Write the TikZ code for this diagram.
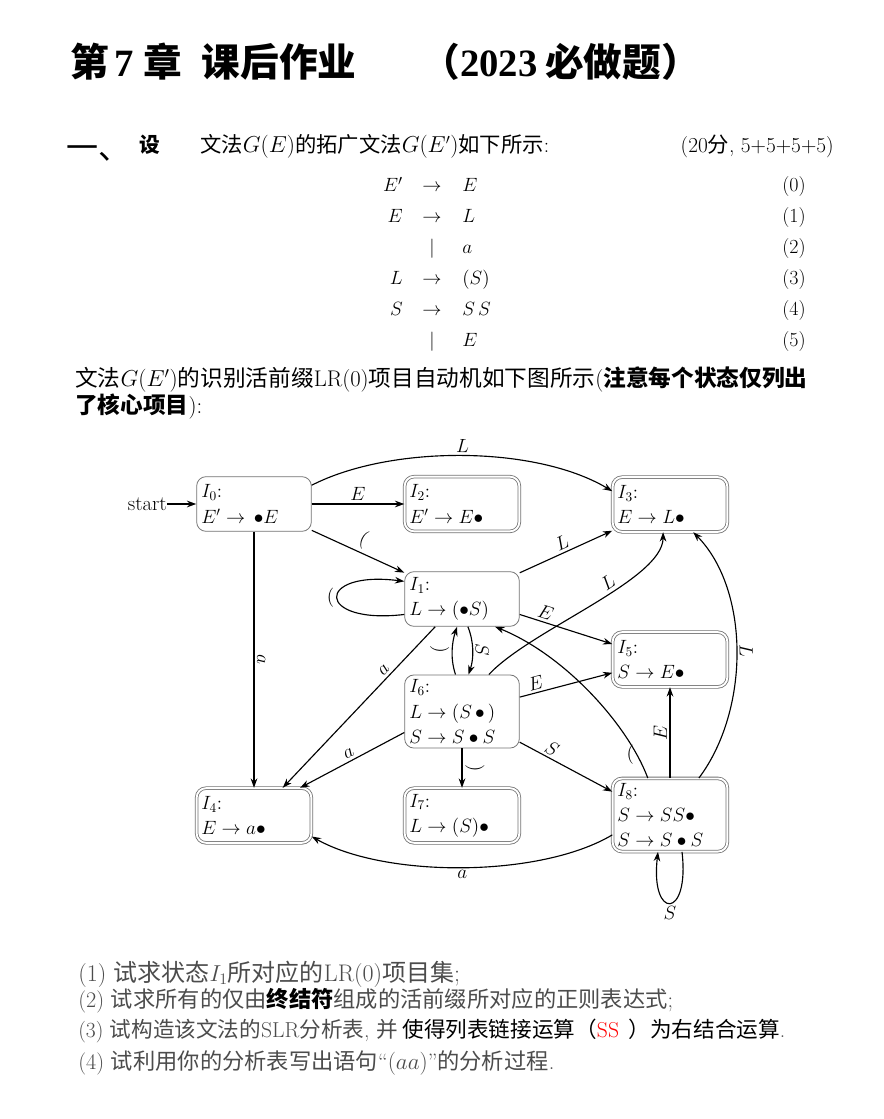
\documentclass[tikz,border=0pt]{standalone}
\usepackage{fontspec}
\usepackage{amsmath,amsfonts}
\usetikzlibrary{arrows.meta}
\newfontfamily\cjk{Noto Sans CJK SC}
\newfontfamily\titlefont{Liberation Serif}

\begin{document}
\begin{tikzpicture}[x=0.75pt,y=-0.75pt,
  txt/.style={inner sep=0pt},
  state/.style={draw=black!55, line width=0.6pt, rounded corners=7pt, align=left,
    text width=79pt, inner sep=3.5pt, minimum height=41pt, font=\fontsize{14.5}{19}\selectfont},
  accept/.style={state, double=white, double distance=1.4pt},
  edge/.style={-{Stealth[length=7pt,width=5pt]}, line width=0.85pt},
  lbl/.style={sloped, inner sep=2pt, font=\fontsize{14.5}{16}\selectfont},
  flatlbl/.style={inner sep=2pt, font=\fontsize{14.5}{16}\selectfont}]
\fill[white] (0,0) rectangle (883,1119);
\useasboundingbox (0,0) rectangle (883,1119);
%
% heading
\node[txt, anchor=west, font=\fontsize{29}{34}\selectfont] (head) at (70,62)
  {\bfseries\cjk 第\hspace{0.15em}{\titlefont 7}\hspace{0.25em}章\hspace{0.5em}课后作业};
\node[txt, anchor=east, font=\fontsize{29}{34}\selectfont] (headyear) at (700,62)
  {\bfseries\cjk （{\titlefont 2023}\hspace{0.2em}必做题）};
%
\node[txt, anchor=base west, font=\fontsize{24}{28}\selectfont] (qnum) at (66,160) {\cjk 一、};
\node[txt, anchor=base west, font=\fontsize{15.5}{18}\selectfont] (qset) at (139,153) {\bfseries\cjk 设};
\node[txt, anchor=base west, font=\fontsize{16}{18}\selectfont] (qtext) at (200,153)
  {\cjk 文法$G(E)$的拓广文法$G(E')$如下所示\textrm{:}};
\node[txt, anchor=base east, font=\fontsize{16}{18}\selectfont] (qscore) at (834,153)
  {\textrm{(20}{\cjk 分}\textrm{, 5+5+5+5)}};
%
% grammar
\foreach \lhs/\sym/\rhs [count=\i from 0] in
  {E'/\rightarrow/E, E/\rightarrow/L, /|/a, L/\rightarrow/(S), S/\rightarrow/S\,S, /|/E}
{
  \node[txt, anchor=base east, font=\fontsize{15}{18}\selectfont] (lhs\i) at (403,{192+31*\i}) {$\lhs$};
  \node[txt, anchor=base, font=\fontsize{15}{18}\selectfont] (sym\i) at (432,{192+31*\i}) {$\sym$};
  \node[txt, anchor=base west, font=\fontsize{15}{18}\selectfont] (rhs\i) at (462,{192+31*\i}) {$\rhs$};
  \node[txt, anchor=base east, font=\fontsize{15}{18}\selectfont] (rule\i) at (806,{192+31*\i}) {(\i)};
}
%
\node[txt, anchor=base west, font=\fontsize{17}{20}\selectfont] (autoa) at (75,387)
  {\cjk 文法$G(E')$的识别活前缀\textrm{LR(0)}项目自动机如下图所示\textrm{(}\textbf{注意每个状态仅列出}};
\node[txt, anchor=base west, font=\fontsize{17}{20}\selectfont] (autob) at (75,413)
  {\cjk\textbf{了核心项目}\textrm{):}};
%
% states
\node[state]  (I0) at (254,504)   {$I_0$:\\$E'\rightarrow\,\bullet E$};
\node[accept] (I2) at (462,504)   {$I_2$:\\$E'\rightarrow E\bullet$};
\node[accept] (I3) at (670,504.5) {$I_3$:\\$E\rightarrow L\bullet$};
\node[state]  (I1) at (462,599)   {$I_1$:\\$L\rightarrow(\bullet S)$};
\node[accept] (I5) at (670,659.5) {$I_5$:\\$S\rightarrow E\bullet$};
\node[state]  (I6) at (462,711.5) {$I_6$:\\$L\rightarrow(S\,\bullet\,)$\\$S\rightarrow S\bullet S$};
\node[accept] (I4) at (254,815.5) {$I_4$:\\$E\rightarrow a\bullet$};
\node[accept] (I7) at (462,815.5) {$I_7$:\\$L\rightarrow(S)\bullet$};
\node[accept] (I8) at (670,815)   {$I_8$:\\$S\rightarrow SS\bullet$\\$S\rightarrow S\bullet S$};
\node[txt, anchor=east, font=\fontsize{15.5}{18}\selectfont] (start) at (167,504) {start};
%
% transitions
\draw[edge, very thick] (start) -- (I0);
\draw[edge] (I0) -- node[lbl, above] {$E$} (I2);
\draw[edge] (I0.18) .. controls (390,445) and (535,445) .. node[lbl, above] {$L$} (I3.167);
\draw[edge] (I0) -- node[lbl, above] {$($} (I1);
\draw[edge] (I1.195) .. controls (315,625) and (315,570) .. node[flatlbl, left] {$($} (I1.163);
\draw[edge] (I1) -- node[lbl, above] {$L$} (I3);
\draw[edge] (I1.-15) -- node[lbl, above, pos=0.25] {$E$} (I5.165);
\draw[edge] (I1.226) -- node[lbl, above, pos=0.3] {$a$} (I4.44);
\draw[edge] (I0) -- node[lbl, above] {$a$} (I4);
\draw[edge] (I1.-78) .. controls (474,642) and (474,658) .. node[lbl, above] {$S$} (I6.80);
\draw[edge] (I6.100) .. controls (450,658) and (452,642) .. node[lbl, above] {$($} (I1.260);
%
\draw[edge] (I6.54) .. controls (530,630) and (663,580) .. node[lbl, above, pos=0.6] {$L$} (I3.256);
\draw[edge] (I6.14) -- node[lbl, above, pos=0.2] {$E$} (I5.193);
\draw[edge] (I6.200) -- node[lbl, above] {$a$} (I4.31);
\draw[edge] (I6) -- node[lbl, above] {$)$} (I7);
\draw[edge] (I6.-28) -- node[lbl, above, pos=0.3] {$S$} (I8.158);
%
\draw[edge] (I8.121) .. controls (628,725) and (565,655) .. node[flatlbl, left, pos=0.14] {$($} (I1.-40);
\draw[edge] (I8) -- node[lbl, above] {$E$} (I5);
\draw[edge] (I8.52) .. controls (750,710) and (750,590) .. node[lbl, above] {$L$} (I3.-50);
\draw[edge] (I8.199) .. controls (540,878) and (385,878) .. node[lbl, below] {$a$} (I4.-20);
\draw[edge] (I8.-72) .. controls (690,920) and (650,920) .. node[lbl, below] {$S$} (I8.252);
%
% questions
\node[txt, anchor=base west, font=\fontsize{18}{21}\selectfont, text=black!70] (parta) at (78,981)
  {\textrm{(1)} {\cjk 试求状态}$I_1${\cjk 所对应的}\textrm{LR(0)}{\cjk 项目集}\textrm{;}};
\node[txt, anchor=base west, font=\fontsize{16.7}{19}\selectfont, text=black!70] (partb) at (78,1007)
  {\textrm{(2)} {\cjk 试求所有的仅由{\color{black}\bfseries 终结符}组成的活前缀所对应的正则表达式}\textrm{;}};
\node[txt, anchor=base west, font=\fontsize{16.2}{19}\selectfont, text=black!70] (partc) at (78,1037)
  {\textrm{(3)} {\cjk 试构造该文法的}\textrm{SLR}{\cjk 分析表}\textrm{, }{\cjk 并 \color{black}使得列表链接运算（\textcolor{red}{\textrm{SS}}\ \ ）为右结合运算}\textrm{.}};
\node[txt, anchor=base west, font=\fontsize{16.7}{19}\selectfont, text=black!70] (partd) at (78,1069)
  {\textrm{(4)} {\cjk 试利用你的分析表写出语句}\textrm{``}$(aa)$\textrm{''}{\cjk 的分析过程}\textrm{.}};
\end{tikzpicture}
\end{document}
